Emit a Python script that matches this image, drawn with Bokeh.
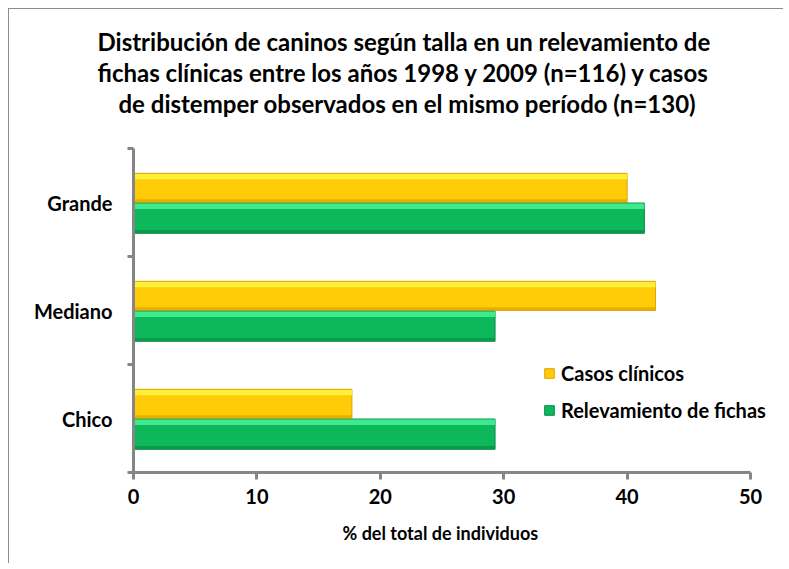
import numpy as np
from bokeh.plotting import figure
from bokeh.models import (Range1d, FixedTicker, Title, Legend, LegendItem, ColumnDataSource)
from bokeh.transform import dodge
from bokeh.embed import file_html
from bokeh.resources import INLINE

# ---------------- data ----------------
categories = ["Chico", "Mediano", "Grande"]
casos_clinicos = [17.7, 42.3, 40.0]          # % (n=130)
relevamiento_fichas = [29.3, 29.3, 41.4]     # % (n=116)
x_ticks = [0, 10, 20, 30, 40, 50]
title_lines = [
    "Distribución de caninos según talla en un relevamiento de",
    "fichas clínicas entre los años 1998 y 2009 (n=116) y casos",
    "de distemper observados en el mismo período (n=130)",
]
x_label = "% del total de individuos"
series_names = ["Casos clínicos", "Relevamiento de fichas"]

FONT = "Lato"
AXIS_COL = "#868686"

# frame is wider than the drawn axis so the legend has room on the right
FRAME_W, AXIS_W = 647, 617
x_end = x_ticks[-1] * FRAME_W / AXIS_W

ypos = np.arange(len(categories)) + 0.5
src = ColumnDataSource(dict(
    y_c=ypos + 0.135, y_r=ypos - 0.145,
    casos=casos_clinicos, rel=relevamiento_fichas,
    zero=[0] * len(categories),
))

p = figure(width=775, height=555, output_backend="svg", toolbar_location=None,
           x_range=Range1d(0, x_end), y_range=Range1d(0, 3),
           min_border_left=124, min_border_right=4, min_border_top=139,
           min_border_bottom=92, outline_line_color=None)
p.styles = {"margin-left": "8px", "margin-top": "8px",
            "border-left": "1px solid #8c8c8c", "border-top": "1px solid #8c8c8c"}
p.grid.visible = False

H = 0.27
# main bars
rc = p.hbar(y="y_c", left="zero", right="casos", height=H, source=src,
            fill_color="#FFCC07", line_color="#E0A500", line_width=1)
rr = p.hbar(y="y_r", left="zero", right="rel", height=H + 0.01, source=src,
            fill_color="#0CB85A", line_color="#08894A", line_width=1)
# bevel highlights (top) and darker bands (bottom)
p.hbar(y=dodge("y_c", 0.105), left="zero", right="casos", height=0.05, source=src,
       fill_color="#FFF03A", line_color=None)
p.hbar(y=dodge("y_r", 0.11), left="zero", right="rel", height=0.05, source=src,
       fill_color="#3DEB8E", line_color=None)
p.hbar(y=dodge("y_c", -0.12), left="zero", right="casos", height=0.03, source=src,
       fill_color="#E8AE00", line_color=None)
p.hbar(y=dodge("y_r", -0.125), left="zero", right="rel", height=0.03, source=src,
       fill_color="#0A9A4C", line_color=None)

# x axis
xa = p.xaxis[0]
xa.ticker = FixedTicker(ticks=x_ticks, minor_ticks=[])
xa.bounds = (x_ticks[0], x_ticks[-1])
xa.axis_line_color = AXIS_COL
xa.axis_line_width = 3
xa.major_tick_line_color = AXIS_COL
xa.major_tick_line_width = 3
xa.major_tick_out = 7
xa.major_tick_in = 0
xa.minor_tick_out = 0
xa.major_label_text_font = FONT
xa.major_label_text_font_style = "bold"
xa.major_label_text_font_size = "20px"
xa.major_label_text_color = "black"
xa.major_label_standoff = 9

# x-axis title, centred under the drawn axis (not the wider frame)
p.add_layout(Title(text=x_label, align="left", offset=209, standoff=26,
                   text_font=FONT, text_font_style="bold",
                   text_font_size="18px", text_color="black"), "below")

# y axis: labels at centers, ticks at category boundaries
ya = p.yaxis[0]
ya.ticker = FixedTicker(ticks=list(ypos), minor_ticks=list(range(len(categories) + 1)))
ya.major_label_overrides = {float(v): c for v, c in zip(ypos, categories)}
ya.axis_line_color = AXIS_COL
ya.axis_line_width = 3
ya.major_tick_out = 0
ya.major_tick_in = 0
ya.minor_tick_out = 6
ya.minor_tick_in = 0
ya.minor_tick_line_color = AXIS_COL
ya.minor_tick_line_width = 3
ya.major_label_text_font = FONT
ya.major_label_text_font_style = "bold"
ya.major_label_text_font_size = "20px"
ya.major_label_text_color = "black"
ya.major_label_standoff = 15

# title: spacer first (closest to frame), then lines bottom-up
p.add_layout(Title(text=" ", text_font_size="1px", standoff=28), "above")
for line, off in zip(reversed(title_lines), [-15, -36, -36]):
    p.add_layout(Title(text=line, align="left", offset=off, standoff=0,
                       text_font=FONT, text_font_style="bold",
                       text_font_size="24px", text_color="black"), "above")

legend = Legend(items=[LegendItem(label=series_names[0], renderers=[rc]),
                       LegendItem(label=series_names[1], renderers=[rr])],
                location=(410, 50), orientation="vertical",
                label_text_font=FONT, label_text_font_style="bold",
                label_text_font_size="20px", label_text_color="black",
                glyph_width=12, glyph_height=12, label_height=24,
                spacing=13, label_standoff=6, padding=0, margin=0,
                border_line_color=None, background_fill_alpha=0)
p.add_layout(legend, "center")

open("out.html", "w").write(file_html(p, INLINE))
